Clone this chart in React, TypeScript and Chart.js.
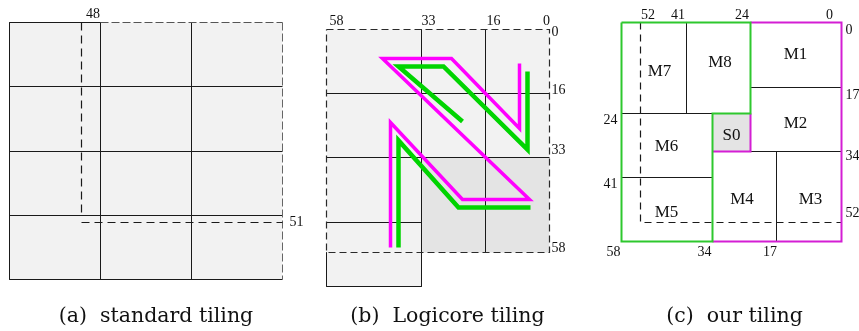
import React, { useEffect, useRef } from "react";
import { Chart, registerables } from "chart.js";

Chart.register(...registerables);

const W = 859;
const H = 331;

type P = [number, number];

// ---------- (a) standard tiling ----------
const A_COLS = [9, 100, 191, 282];
const A_ROWS = [22, 86, 151, 215, 279];
const A_DASH_COL = 81;
const A_DASH_ROW = 222;

// ---------- (b) Logicore tiling ----------
const B_COLS = [326, 421, 485, 549];
const B_ROWS = [29, 93, 157, 252];
const B_EXT_ROWS = [222, 286];
const B_MAGENTA: P[] = [[519, 63], [519, 128], [451, 58], [382, 58], [529, 199], [462, 199], [390, 122], [390, 247]];
const B_GREEN_UP: P[] = [[527, 71], [527, 149], [443, 66], [398, 66], [462, 121]];
const B_GREEN_LOW: P[] = [[530, 207], [458, 207], [398, 140], [398, 247]];

// ---------- (c) our tiling ----------
const C_COLS = [621, 640, 686, 712, 750, 776, 841];
const C_ROWS = [22, 87, 113, 151, 177, 222, 241];
const C_GREEN: P[] = [[621, 22], [750, 22], [750, 113], [712, 113], [712, 241], [621, 241], [621, 22]];
const C_MAGENTA_OUT: P[] = [[750, 22], [841, 22], [841, 241], [712, 241]];
const C_MAGENTA_S0: P[] = [[712, 151], [750, 151], [750, 113]];

// ---------- texts ----------
const TICK_FONT = "Liberation Serif";
type Lbl = { t: string; x: number; y: number; s: number; a: CanvasTextAlign; b?: CanvasTextBaseline };
const TICK_LABELS: Lbl[] = [
  { t: "48", x: 92.5, y: 14, s: 14, a: "center" },
  { t: "51", x: 289, y: 222, s: 14, a: "left" },
  { t: "58", x: 336, y: 20.5, s: 14, a: "center" },
  { t: "33", x: 428, y: 20.5, s: 14, a: "center" },
  { t: "16", x: 493, y: 20.5, s: 14, a: "center" },
  { t: "0", x: 546, y: 20.5, s: 14, a: "center" },
  { t: "0", x: 551, y: 32, s: 14, a: "left" },
  { t: "16", x: 551, y: 90, s: 14, a: "left" },
  { t: "33", x: 551, y: 150, s: 14, a: "left" },
  { t: "58", x: 551, y: 248, s: 14, a: "left" },
  { t: "52", x: 647.5, y: 15, s: 14, a: "center" },
  { t: "41", x: 677.5, y: 15, s: 14, a: "center" },
  { t: "24", x: 741.5, y: 15, s: 14, a: "center" },
  { t: "0", x: 829, y: 15, s: 14, a: "center" },
  { t: "0", x: 845, y: 30, s: 14, a: "left" },
  { t: "17", x: 845, y: 94.5, s: 14, a: "left" },
  { t: "34", x: 845, y: 156, s: 14, a: "left" },
  { t: "52", x: 845, y: 213, s: 14, a: "left" },
  { t: "24", x: 610, y: 119.5, s: 14, a: "center" },
  { t: "41", x: 610, y: 183.5, s: 14, a: "center" },
  { t: "58", x: 613, y: 251.5, s: 14, a: "center" },
  { t: "34", x: 704, y: 251.5, s: 14, a: "center" },
  { t: "17", x: 769.5, y: 251.5, s: 14, a: "center" },
];
const MODULE_LABELS: Lbl[] = [
  { t: "M7", x: 659, y: 71, s: 17, a: "center" },
  { t: "M8", x: 719.5, y: 62.5, s: 17, a: "center" },
  { t: "M1", x: 795, y: 54, s: 17, a: "center" },
  { t: "M2", x: 795, y: 123, s: 17, a: "center" },
  { t: "S0", x: 731, y: 135, s: 17, a: "center" },
  { t: "M6", x: 666, y: 146, s: 17, a: "center" },
  { t: "M4", x: 741.5, y: 199, s: 17, a: "center" },
  { t: "M3", x: 810, y: 199, s: 17, a: "center" },
  { t: "M5", x: 666, y: 212.5, s: 17, a: "center" },
];
const CAPTIONS: Lbl[] = [
  { t: "(a)  standard tiling", x: 155.5, y: 321, s: 20.5, a: "center", b: "alphabetic" },
  { t: "(b)  Logicore tiling", x: 447, y: 321, s: 20.5, a: "center", b: "alphabetic" },
  { t: "(c)  our tiling", x: 734, y: 321, s: 20.5, a: "center", b: "alphabetic" },
];

// ---------- colours ----------
const LIGHT = "#f2f2f2";
const DARK = "#e4e4e4";
const INK = "#1a1a1a";
const MAG_B = "#ff00ff";
const GRN_B = "#00d400";
const MAG_C = "#d41ed4";
const GRN_C = "#2ec82e";

function pts(p: P[]) {
  return p.map(([x, y]) => ({ x, y }));
}

function line(p: P[], color: string, width: number, dash: number[] = []) {
  return {
    data: pts(p),
    borderColor: color,
    borderWidth: width,
    borderDash: dash,
    borderJoinStyle: "miter" as const,
    pointRadius: 0,
    pointHoverRadius: 0,
    fill: false,
    tension: 0,
    clip: false as const,
  };
}

function rect(x1: number, y1: number, x2: number, y2: number, color: string) {
  return {
    data: [{ x: x1, y: y1 }, { x: x2, y: y1 }],
    borderColor: "rgba(0,0,0,0)",
    borderWidth: 0,
    backgroundColor: color,
    pointRadius: 0,
    fill: { value: y2 },
    tension: 0,
  };
}

function buildDatasets() {
  const ds: any[] = [];
  // fills
  ds.push(rect(A_COLS[0], A_ROWS[0], A_COLS[3], A_ROWS[4], LIGHT));
  ds.push(rect(B_COLS[0], B_ROWS[0], B_COLS[3], B_ROWS[3], LIGHT));
  ds.push(rect(B_COLS[0], B_ROWS[3], B_COLS[1], B_EXT_ROWS[1], LIGHT));
  ds.push(rect(B_COLS[1], B_ROWS[2], B_COLS[3], B_ROWS[3], DARK));
  ds.push(rect(C_COLS[3], C_ROWS[2], C_COLS[4], C_ROWS[3], DARK));

  // (a) grid
  for (const r of A_ROWS.slice(1)) ds.push(line([[A_COLS[0], r], [A_COLS[3], r]], INK, 1));
  for (const c of A_COLS.slice(0, 3)) ds.push(line([[c, A_ROWS[0]], [c, A_ROWS[4]]], INK, 1));
  ds.push(line([[A_COLS[0], A_ROWS[0]], [A_COLS[1], A_ROWS[0]]], INK, 1));
  ds.push(line([[A_COLS[1], A_ROWS[0]], [A_COLS[3], A_ROWS[0]]], "#555", 1, [8, 3]));
  ds.push(line([[A_COLS[3], A_ROWS[0]], [A_COLS[3], A_ROWS[4]]], "#666", 1, [8, 3]));
  ds.push(line([[A_DASH_COL, A_ROWS[0]], [A_DASH_COL, A_ROWS[3]]], INK, 1.2, [8, 5]));
  ds.push(line([[A_DASH_COL, A_DASH_ROW], [A_COLS[3], A_DASH_ROW]], INK, 1.2, [8, 5]));

  // (b) grid
  ds.push(line([[B_COLS[1], B_ROWS[0]], [B_COLS[1], B_EXT_ROWS[1]]], INK, 1));
  ds.push(line([[B_COLS[2], B_ROWS[0]], [B_COLS[2], B_ROWS[3]]], INK, 1));
  ds.push(line([[B_COLS[0], B_ROWS[1]], [B_COLS[3], B_ROWS[1]]], INK, 1));
  ds.push(line([[B_COLS[0], B_ROWS[2]], [B_COLS[3], B_ROWS[2]]], INK, 1));
  ds.push(line([[B_COLS[0], B_EXT_ROWS[0]], [B_COLS[1], B_EXT_ROWS[0]]], INK, 1));
  ds.push(line([[B_COLS[0], B_ROWS[3]], [B_COLS[0], B_EXT_ROWS[1]], [B_COLS[1], B_EXT_ROWS[1]]], INK, 1));
  ds.push(line([[B_COLS[0], B_ROWS[0]], [B_COLS[3], B_ROWS[0]], [B_COLS[3], B_ROWS[3]], [B_COLS[0], B_ROWS[3]], [B_COLS[0], B_ROWS[0]]], "#2a2a2a", 1.2, [7, 4]));
  ds.push(line(B_GREEN_UP, GRN_B, 4.5));
  ds.push(line(B_GREEN_LOW, GRN_B, 4.5));
  ds.push(line(B_MAGENTA, MAG_B, 3.5));

  // (c)
  ds.push(line([[C_COLS[2], C_ROWS[0]], [C_COLS[2], C_ROWS[2]]], INK, 1));
  ds.push(line([[C_COLS[0], C_ROWS[2]], [C_COLS[3], C_ROWS[2]]], INK, 1));
  ds.push(line([[C_COLS[4], C_ROWS[1]], [C_COLS[6], C_ROWS[1]]], INK, 1));
  ds.push(line([[C_COLS[4], C_ROWS[3]], [C_COLS[6], C_ROWS[3]]], INK, 1));
  ds.push(line([[C_COLS[0], C_ROWS[4]], [C_COLS[3], C_ROWS[4]]], INK, 1));
  ds.push(line([[C_COLS[5], C_ROWS[3]], [C_COLS[5], C_ROWS[6]]], INK, 1));
  ds.push(line([[C_COLS[1], C_ROWS[0]], [C_COLS[1], C_ROWS[5]], [C_COLS[6], C_ROWS[5]]], INK, 1.2, [7, 5]));
  ds.push(line(C_MAGENTA_OUT, MAG_C, 2));
  ds.push(line(C_MAGENTA_S0, MAG_C, 2));
  ds.push(line(C_GREEN, GRN_C, 2));

  const n = ds.length;
  return ds.map((d, i) => ({ ...d, order: n - i }));
}

const textPlugin = {
  id: "diagramText",
  afterDatasetsDraw(chart: any) {
    const { ctx } = chart;
    const xs = chart.scales.x;
    const ys = chart.scales.y;
    ctx.save();
    ctx.fillStyle = "#111";
    const draw = (l: Lbl, fam: string) => {
      ctx.font = `${l.s}px "${fam}"`;
      ctx.textAlign = l.a;
      ctx.textBaseline = l.b || "middle";
      ctx.fillText(l.t, xs.getPixelForValue(l.x), ys.getPixelForValue(l.y));
    };
    TICK_LABELS.forEach((l) => draw(l, TICK_FONT));
    MODULE_LABELS.forEach((l) => draw(l, TICK_FONT));
    CAPTIONS.forEach((l) => draw(l, "DejaVu Serif"));
    ctx.restore();
  },
};

export default function App() {
  const ref = useRef<HTMLCanvasElement | null>(null);
  useEffect(() => {
    if (!ref.current) return;
    const chart = new Chart(ref.current, {
      type: "line",
      data: { datasets: buildDatasets() },
      options: {
        animation: false,
        responsive: false,
        events: [],
        layout: { padding: 0 },
        plugins: { legend: { display: false }, tooltip: { enabled: false } },
        scales: {
          // half-pixel offset so that 1px strokes land on pixel centres
          x: { type: "linear", min: -0.5, max: W - 0.5, display: false },
          y: { type: "linear", min: -0.5, max: H - 0.5, reverse: true, display: false },
        },
      },
      plugins: [textPlugin],
    } as any);
    return () => chart.destroy();
  }, []);
  return (
    <div style={{ position: "absolute", left: 0, top: 0, width: W, height: H, background: "#fff" }}>
      <canvas ref={ref} width={W} height={H} style={{ display: "block" }} />
    </div>
  );
}
